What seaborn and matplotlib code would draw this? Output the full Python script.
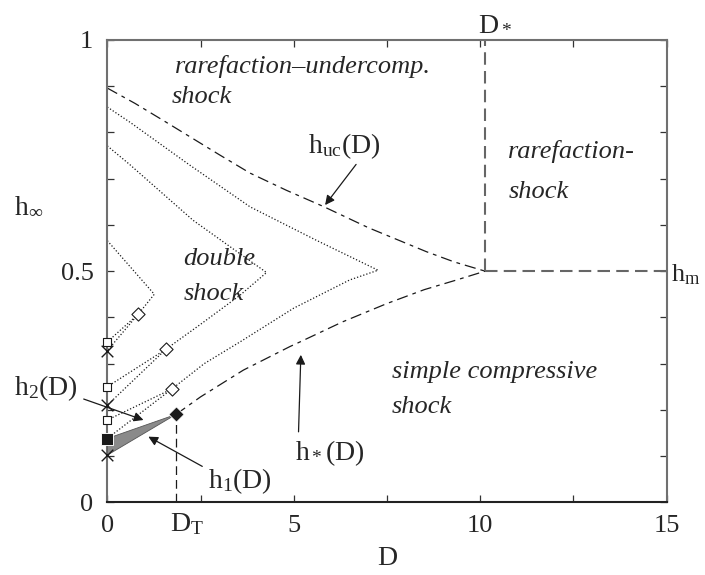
import matplotlib
matplotlib.use("Agg")
import matplotlib.pyplot as plt
import matplotlib.transforms as mtransforms
import numpy as np
import pandas as pd
import seaborn as sns

# ---------------- data ----------------
huc_D = [0.0, 0.74, 1.5, 3.0, 3.83, 4.8, 5.79, 7.0, 8.56, 9.3, 10.13]
huc_h = [0.896, 0.863, 0.826, 0.752, 0.712, 0.675, 0.640, 0.594, 0.542, 0.52, 0.50]

hstar_D = [1.84, 2.5, 3.65, 4.9, 5.17, 6.3, 7.5, 8.5, 9.37, 10.13]
hstar_h = [0.19, 0.228, 0.286, 0.337, 0.347, 0.39, 0.43, 0.46, 0.481, 0.50]

D_star = 10.13
h_m = 0.5
D_T = 1.84
h_T = 0.19

# dotted "double shock" curves: upper branch -> tip -> lower branch -> square
v1_D = [0.0, 1.26, 0.83, 0.0]
v1_h = [0.566, 0.45, 0.407, 0.347]
v1b_D = [0.83, 0.0]
v1b_h = [0.407, 0.328]

v2_D = [0.0, 0.61, 2.3, 3.29, 4.27, 3.56, 2.5, 1.57, 0.0]
v2_h = [0.771, 0.73, 0.61, 0.553, 0.497, 0.448, 0.385, 0.331, 0.25]
v2b_D = [1.57, 0.0]
v2b_h = [0.331, 0.21]

v3_D = [0.0, 0.61, 2.2, 3.83, 5.6, 7.26, 6.5, 5.0, 3.56, 2.6, 1.73, 0.0]
v3_h = [0.855, 0.822, 0.73, 0.639, 0.567, 0.502, 0.481, 0.42, 0.347, 0.30, 0.245, 0.178]
v3b_D = [1.73, 0.0]
v3b_h = [0.245, 0.138]

square_h = [0.347, 0.25, 0.178]
cross_h = [0.328, 0.21, 0.138, 0.102]
diamond_D = [0.83, 1.57, 1.73]
diamond_h = [0.407, 0.331, 0.245]

h2_D = [0.0, 1.84]
h2_h = [0.138, 0.19]
h1_D = [0.0, 1.84]
h1_h = [0.102, 0.19]

x_major = [0, 5, 10, 15]
x_minor = [2.5, 7.5, 12.5]
y_major = [0, 0.5, 1]
y_minor = [0.1, 0.2, 0.3, 0.4, 0.6, 0.7, 0.8, 0.9]

# ---------------- style ----------------
sns.set_theme(style="ticks")
plt.rcParams["font.family"] = ["Liberation Serif", "DejaVu Serif"]
plt.rcParams["mathtext.fontset"] = "custom"
plt.rcParams["mathtext.rm"] = "Liberation Serif"
plt.rcParams["mathtext.it"] = "Liberation Serif:italic"
FS = 19
FL = 20

fig = plt.figure(figsize=(7.05, 5.75), dpi=100)
W, H = 705, 575
L, R, T, B = 107.3, 666.7, 40.0, 502.3
ax = fig.add_axes([L / W, 1 - B / H, (R - L) / W, (B - T) / H])
ax.set_xlim(0, 15)
ax.set_ylim(0, 1)

dot = (0, (1, 1.6))
dashdot = (0, (9, 4, 3, 4))

def line(x, y, **kw):
    sns.lineplot(x=x, y=y, sort=False, estimator=None, ax=ax, legend=False, **kw)

# boundaries
line(huc_D, huc_h, color="k", lw=0.9, linestyle=dashdot)
line(hstar_D, hstar_h, color="k", lw=0.9, linestyle=dashdot)
line([D_star, 15], [h_m, h_m], color="#666666", lw=1.5, linestyle=(0, (6, 3)))
line([D_star, D_star], [h_m, 1.0], color="#666666", lw=1.5, linestyle=(0, (6, 3)))
line([D_T, D_T], [0, h_T], color="k", lw=0.9, linestyle=(0, (7, 4)))

# dotted curves
for xd, yd in [(v1_D, v1_h), (v1b_D, v1b_h), (v2_D, v2_h), (v2b_D, v2b_h),
               (v3_D, v3_h), (v3b_D, v3b_h)]:
    line(xd, yd, color="k", lw=0.9, linestyle=dot)

# gray region between h1 and h2
ax.fill(h2_D + h1_D[::-1], h2_h + h1_h[::-1], color="#8a8a8a", lw=0.6,
        edgecolor="#555555", zorder=3)

# markers
sns.scatterplot(x=[0] * len(cross_h), y=cross_h, marker="x", s=70, color="k",
                linewidth=1.0, ax=ax, zorder=5, clip_on=False)
sns.scatterplot(x=[0] * len(square_h), y=square_h, marker="s", s=28,
                facecolor="white", edgecolor="k", linewidth=0.8, ax=ax,
                zorder=6, clip_on=False)
sns.scatterplot(x=diamond_D, y=diamond_h, marker="D", s=45, facecolor="white",
                edgecolor="k", linewidth=0.8, ax=ax, zorder=6)
sns.scatterplot(x=[0], y=[h2_h[0]], marker="s", s=70, color="k", ax=ax,
                zorder=7, clip_on=False)
sns.scatterplot(x=[D_T], y=[h_T], marker="D", s=60, color="k", ax=ax, zorder=7)

# axes styling
for name, sp in ax.spines.items():
    sp.set_visible(True)
    sp.set_color("#222222" if name == "bottom" else "#707070")
    sp.set_linewidth(1.5)
ax.set_xticks(x_major)
ax.set_xticks(x_minor, minor=True)
ax.set_yticks(y_major)
ax.set_yticks(y_minor, minor=True)
ax.set_xticklabels(["0", "5", "10", "15"])
ax.set_yticklabels(["0", "0.5", "1"])
ax.tick_params(which="both", direction="in", top=True, right=True,
               length=5, width=0.9, color="#333333", labelsize=FS, pad=9)
ax.tick_params(axis="y", pad=10)
ax.set_xlabel("")
ax.set_ylabel("")

trans_x = mtransforms.blended_transform_factory(ax.transData, ax.transAxes)
ax.text(D_T - 0.15, -0.02, r"$\mathregular{D_T}$", transform=trans_x, ha="left",
        va="top", fontsize=FL)
ax.text(7.5, -0.095, "D", transform=trans_x, ha="center", va="top", fontsize=FL)
ax.text(-2.5, 0.64, r"$\mathregular{h_\infty}$", ha="left", va="center",
        fontsize=FL, clip_on=False)
ax.text(9.94, 1.022, r"$\mathregular{D_*}$", ha="left", va="baseline",
        fontsize=FL, clip_on=False)
ax.text(15.12, 0.478, r"$\mathregular{h_m}$", ha="left", va="baseline",
        fontsize=FS, clip_on=False)

# region names
it = dict(fontsize=FS, style="italic", ha="left", va="baseline")
ax.text(1.82, 0.928, "rarefaction\u2013undercomp.", **it)
ax.text(1.73, 0.864, "shock", **it)
ax.text(2.04, 0.513, "double", **it)
ax.text(2.04, 0.437, "shock", **it)
ax.text(10.75, 0.745, "rarefaction-", **it)
ax.text(10.75, 0.658, "shock", **it)
ax.text(7.63, 0.269, "simple compressive", **it)
ax.text(7.63, 0.193, "shock", **it)

# annotated curve labels
arr = dict(arrowstyle="-|>", color="k", lw=0.9, mutation_scale=14)
ax.annotate(r"$\mathregular{h_{uc}(D)}$", xy=(5.84, 0.643), xytext=(5.38, 0.755),
            fontsize=FL, ha="left", va="baseline",
            arrowprops=dict(arr, shrinkA=0, shrinkB=0, relpos=(0.7, 0.0)))
ax.annotate(r"$\mathregular{h_*(D)}$", xy=(5.19, 0.319), xytext=(5.03, 0.092),
            fontsize=FL, ha="left", va="baseline",
            arrowprops=dict(arr, shrinkA=2, shrinkB=0, relpos=(0.05, 1.0)))
ax.annotate(r"$\mathregular{h_1(D)}$", xy=(1.10, 0.142), xytext=(2.70, 0.03),
            fontsize=FL, ha="left", va="baseline", annotation_clip=False,
            arrowprops=dict(arr, shrinkA=2, shrinkB=0, relpos=(0.0, 0.9)))
ax.annotate(r"$\mathregular{h_2(D)}$", xy=(0.97, 0.178), xytext=(-2.5, 0.232),
            fontsize=FL, ha="left", va="baseline", annotation_clip=False,
            arrowprops=dict(arr, shrinkA=2, shrinkB=0, relpos=(1.0, 0.2)))

fig.savefig("out.png", dpi=100)
